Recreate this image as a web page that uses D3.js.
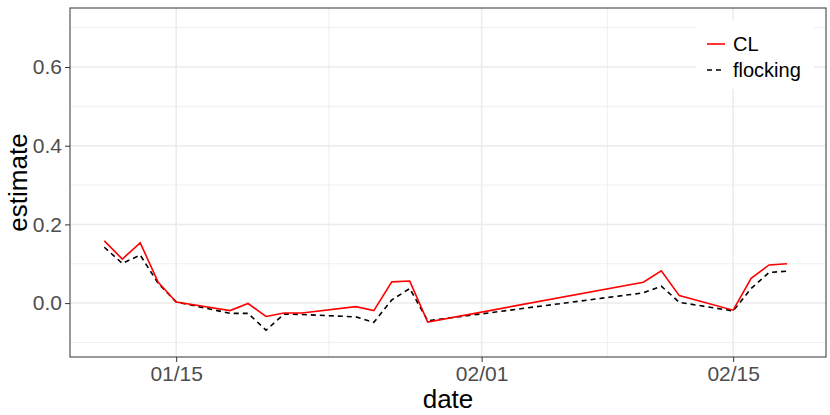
<!DOCTYPE html>
<html><head><meta charset="utf-8">
<script src="https://cdn.jsdelivr.net/npm/d3@7"></script>
<style>body{margin:0;background:#fff}svg{display:block;font-family:"Liberation Sans",Arial,sans-serif}</style>
</head><body><svg id="c" width="830" height="415"></svg>
<script>
const dates = ["2016-01-11","2016-01-12","2016-01-13","2016-01-14","2016-01-15","2016-01-18","2016-01-19","2016-01-20","2016-01-21","2016-01-22","2016-01-25","2016-01-26","2016-01-27","2016-01-28","2016-01-29","2016-02-10","2016-02-11","2016-02-12","2016-02-15","2016-02-16","2016-02-17","2016-02-18"];
const clValues = [0.158,0.112,0.153,0.053,0.003,-0.019,-0.001,-0.034,-0.025,-0.025,-0.009,-0.019,0.054,0.056,-0.048,0.053,0.082,0.019,-0.018,0.063,0.097,0.100];
const flockingValues = [0.142,0.101,0.122,0.050,0.003,-0.026,-0.026,-0.069,-0.028,-0.029,-0.035,-0.049,0.008,0.037,-0.045,0.026,0.043,0.002,-0.020,0.037,0.078,0.081];
const xTicks = ["2016-01-15","2016-02-01","2016-02-15"];
const xMinor = ["2016-01-23T12:00","2016-02-08"];
const yTicks = [0.0,0.2,0.4,0.6];
const yMinor = [-0.1,0.1,0.3,0.5,0.7];
const seriesNames = ["CL","flocking"];

const parse = d3.isoParse;
const L=70,R=826,T=8,B=357;
const x = d3.scaleTime().domain([parse("2016-01-09T02:10"), parse("2016-02-20T04:00")]).range([L,R]);
const y = d3.scaleLinear().domain([-0.137,0.75]).range([B,T]);
const svg = d3.select("#c");
const g = svg.append("g");
const gridC="#ebebeb";
g.selectAll(".ym").data(yMinor).join("line").attr("x1",L).attr("x2",R).attr("y1",d=>y(d)).attr("y2",d=>y(d)).attr("stroke",gridC).attr("stroke-width",0.8);
g.selectAll(".xm").data(xMinor).join("line").attr("y1",T).attr("y2",B).attr("x1",d=>x(parse(d))).attr("x2",d=>x(parse(d))).attr("stroke",gridC).attr("stroke-width",0.8);
g.selectAll(".yM").data(yTicks).join("line").attr("x1",L).attr("x2",R).attr("y1",d=>y(d)).attr("y2",d=>y(d)).attr("stroke",gridC).attr("stroke-width",1.5);
g.selectAll(".xM").data(xTicks).join("line").attr("y1",T).attr("y2",B).attr("x1",d=>x(parse(d))).attr("x2",d=>x(parse(d))).attr("stroke",gridC).attr("stroke-width",1.5);

const line = d3.line().x((d,i)=>x(parse(dates[i]))).y(d=>y(d));
g.append("path").attr("d",line(flockingValues)).attr("fill","none").attr("stroke","#000").attr("stroke-width",1.6).attr("stroke-dasharray","5,4");
g.append("path").attr("d",line(clValues)).attr("fill","none").attr("stroke","#ff0000").attr("stroke-width",1.6);

g.append("rect").attr("x",L).attr("y",T).attr("width",R-L).attr("height",B-T).attr("fill","none").attr("stroke","#333").attr("stroke-width",1);

const fmt = d3.timeFormat("%m/%d");
const xa = svg.append("g").attr("transform",`translate(0,${B})`).call(d3.axisBottom(x).tickValues(xTicks.map(parse)).tickFormat(fmt).tickSize(5).tickPadding(4));
const ya = svg.append("g").attr("transform",`translate(${L},0)`).call(d3.axisLeft(y).tickValues(yTicks).tickFormat(d3.format(".1f")).tickSize(5).tickPadding(3));
[xa,ya].forEach(a=>{a.select(".domain").remove();a.selectAll("line").attr("stroke","#333");a.selectAll("text").attr("fill","#4d4d4d").style("font-size","21px");});

svg.append("text").attr("x",(L+R)/2).attr("y",408).attr("text-anchor","middle").style("font-size","26px").attr("fill","#000").text("date");
svg.append("text").attr("transform",`translate(27,${(T+B)/2}) rotate(-90)`).attr("text-anchor","middle").style("font-size","26px").attr("fill","#000").text("estimate");

const lg = svg.append("g").attr("transform","translate(696,20)");
lg.append("rect").attr("width",118).attr("height",69).attr("fill","#fff");
const items=[{n:seriesNames[0],c:"#ff0000",d:null},{n:seriesNames[1],c:"#000",d:"5,4"}];
items.forEach((it,i)=>{
  const yy=24+i*26;
  lg.append("line").attr("x1",11).attr("x2",29).attr("y1",yy).attr("y2",yy).attr("stroke",it.c).attr("stroke-width",1.6).attr("stroke-dasharray",it.d);
  lg.append("text").attr("x",37).attr("y",yy+7).style("font-size","20px").attr("fill","#000").text(it.n);
});
</script></body></html>
